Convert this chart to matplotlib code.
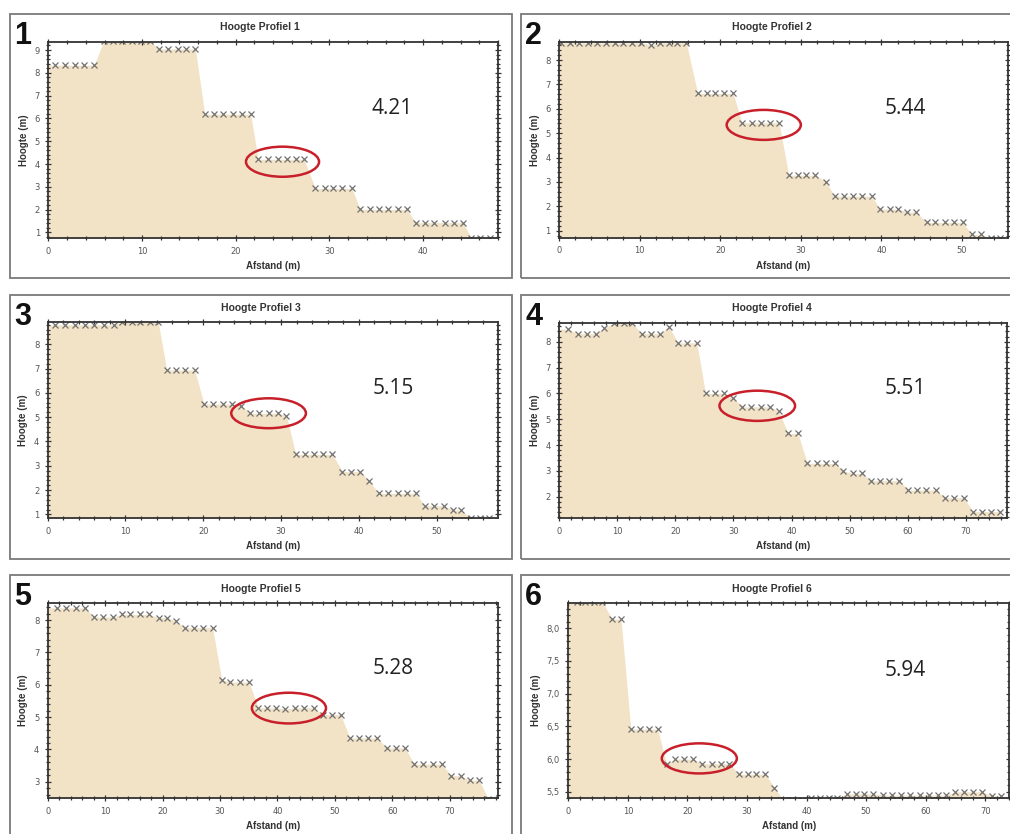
import matplotlib.pyplot as plt
from matplotlib.patches import Ellipse, Rectangle
from matplotlib.ticker import MultipleLocator, AutoMinorLocator, FuncFormatter
import numpy as np

# Hoogte profielen: afstand (m) en hoogte (m) van de meetpunten
x1 = [0.7, 1.75, 2.8, 3.85, 4.9, 5.9, 6.9, 7.9, 8.9, 9.9, 10.9, 11.8, 12.8, 13.8, 14.7, 15.7,
      16.7, 17.7, 18.7, 19.7, 20.7, 21.6, 22.4, 23.5, 24.5, 25.5, 26.4, 27.3, 28.5, 29.5, 30.4,
      31.4, 32.4, 33.3, 34.3, 35.3, 36.3, 37.3, 38.3, 39.2, 40.2, 41.2, 42.3, 43.3, 44.3, 45.1,
      46.1, 47.1]
y1 = [8.34, 8.34, 8.34, 8.34, 8.34, 9.38, 9.38, 9.38, 9.38, 9.38, 9.38, 9.05, 9.05, 9.05, 9.05, 9.05,
      6.19, 6.19, 6.19, 6.19, 6.19, 6.19, 4.21, 4.21, 4.21, 4.21, 4.21, 4.21, 2.93, 2.93, 2.93,
      2.93, 2.93, 2.01, 2.01, 2.01, 2.01, 2.01, 2.01, 1.43, 1.43, 1.43, 1.43, 1.43, 1.43, 0.77,
      0.77, 0.77]

x2 = [0.3, 1.4, 2.5, 3.55, 4.7, 5.8, 6.9, 8.0, 9.1, 10.2, 11.4, 12.5, 13.6, 14.7, 15.8, 17.2,
      18.3, 19.4, 20.5, 21.6, 22.7, 23.9, 25.0, 26.2, 27.3, 28.5, 29.6, 30.7, 31.8, 33.1, 34.2,
      35.4, 36.5, 37.6, 38.8, 39.8, 41.0, 42.1, 43.2, 44.3, 45.6, 46.7, 47.9, 49.0, 50.1, 51.2,
      52.4, 53.6, 54.7]
y2 = [8.71, 8.71, 8.71, 8.71, 8.71, 8.71, 8.71, 8.71, 8.71, 8.71, 8.62, 8.71, 8.71, 8.71, 8.71, 6.63,
      6.63, 6.63, 6.63, 6.63, 5.43, 5.43, 5.43, 5.43, 5.43, 3.28, 3.28, 3.28, 3.28, 3.01, 2.42,
      2.42, 2.42, 2.42, 2.42, 1.89, 1.89, 1.89, 1.77, 1.77, 1.34, 1.34, 1.34, 1.34, 1.34, 0.85,
      0.85, 0.69, 0.69]

x3 = [0.95, 2.2, 3.5, 4.8, 6.0, 7.3, 8.5, 9.6, 10.8, 11.9, 13.1, 14.2, 15.3, 16.5, 17.7, 18.9,
      20.1, 21.3, 22.6, 23.7, 24.9, 26.0, 27.2, 28.4, 29.6, 30.7, 31.9, 33.1, 34.2, 35.4, 36.6,
      37.9, 39.0, 40.2, 41.3, 42.6, 43.8, 45.0, 46.2, 47.3, 48.5, 49.7, 50.9, 52.1, 53.2, 54.4,
      55.6, 56.8]
y3 = [8.80, 8.80, 8.80, 8.80, 8.80, 8.80, 8.80, 8.93, 8.93, 8.93, 8.93, 8.93, 6.94, 6.94, 6.94, 6.94,
      5.54, 5.54, 5.54, 5.54, 5.47, 5.16, 5.16, 5.16, 5.16, 5.06, 3.47, 3.47, 3.47, 3.47, 3.47,
      2.76, 2.76, 2.76, 2.39, 1.87, 1.87, 1.87, 1.87, 1.87, 1.36, 1.36, 1.36, 1.18, 1.18, 0.84,
      0.84, 0.84]

x4 = [1.5, 3.2, 4.75, 6.3, 7.8, 9.5, 11.1, 12.6, 14.2, 15.8, 17.4, 18.9, 20.5, 22.1, 23.7, 25.2,
      26.8, 28.4, 30.0, 31.5, 33.1, 34.7, 36.3, 37.8, 39.4, 41.1, 42.7, 44.3, 45.9, 47.5, 48.9,
      50.5, 52.1, 53.7, 55.2, 56.8, 58.5, 60.1, 61.6, 63.2, 64.8, 66.4, 68.0, 69.6, 71.2, 72.7,
      74.3, 75.9]
y4 = [8.49, 8.32, 8.32, 8.32, 8.54, 8.72, 8.72, 8.72, 8.32, 8.32, 8.32, 8.58, 7.96, 7.96, 7.96, 6.00,
      6.00, 6.00, 5.83, 5.48, 5.48, 5.48, 5.48, 5.32, 4.45, 4.45, 3.29, 3.29, 3.29, 3.29, 3.00,
      2.90, 2.90, 2.62, 2.62, 2.62, 2.62, 2.26, 2.26, 2.26, 2.26, 1.96, 1.96, 1.96, 1.42, 1.42,
      1.42, 1.42]

x5 = [1.6, 3.2, 4.9, 6.5, 8.1, 9.7, 11.3, 12.9, 14.4, 16.1, 17.6, 19.3, 20.8, 22.3, 23.9, 25.5,
      27.1, 28.7, 30.3, 31.8, 33.5, 35.0, 36.7, 38.2, 39.8, 41.4, 43.0, 44.7, 46.3, 48.0, 49.5,
      51.0, 52.6, 54.2, 55.8, 57.4, 59.0, 60.6, 62.2, 63.8, 65.4, 67.0, 68.6, 70.3, 71.9, 73.5,
      75.1, 76.7]
y5 = [8.38, 8.38, 8.38, 8.38, 8.10, 8.10, 8.10, 8.18, 8.18, 8.18, 8.18, 8.08, 8.08, 7.97, 7.77, 7.77,
      7.77, 7.77, 6.16, 6.09, 6.09, 6.09, 5.29, 5.29, 5.29, 5.25, 5.29, 5.29, 5.29, 5.08, 5.08,
      5.08, 4.36, 4.36, 4.36, 4.36, 4.05, 4.05, 4.05, 3.55, 3.55, 3.55, 3.55, 3.19, 3.19, 3.05,
      3.05, 2.48]

x6 = [1.4, 2.8, 4.3, 5.7, 7.4, 8.85, 10.5, 12.0, 13.5, 15.0, 16.5, 17.9, 19.4, 21.0, 22.5, 24.1,
      25.6, 27.0, 28.7, 30.1, 31.6, 33.1, 34.6, 36.2, 37.6, 39.2, 40.8, 42.3, 43.7, 45.2, 46.8,
      48.3, 49.7, 51.2, 52.8, 54.3, 55.8, 57.4, 59.0, 60.5, 62.0, 63.5, 65.0, 66.5, 68.0, 69.5,
      71.1, 72.7]
y6 = [8.40, 8.40, 8.40, 8.40, 8.14, 8.14, 6.46, 6.46, 6.46, 6.46, 5.92, 6.00, 6.00, 6.00, 5.93, 5.93,
      5.93, 5.93, 5.77, 5.77, 5.77, 5.77, 5.56, 5.37, 5.37, 5.37, 5.40, 5.41, 5.41, 5.41, 5.47,
      5.47, 5.47, 5.47, 5.45, 5.45, 5.45, 5.45, 5.45, 5.45, 5.45, 5.45, 5.50, 5.50, 5.50, 5.50,
      5.44, 5.44]

# gemiddelde hoogte van de omcirkelde trede
values = ["4.21", "5.44", "5.15", "5.51", "5.28", "5.94"]
# omcirkelde trede: midden (x, y) en breedte/hoogte in data
ring_x = [25.0, 25.4, 28.4, 34.1, 42.0, 22.0]
ring_y = [4.10, 5.34, 5.16, 5.52, 5.28, 6.01]
ring_w = [7.8, 9.2, 9.6, 13.0, 12.9, 12.6]
ring_h = [1.32, 1.23, 1.23, 1.17, 0.95, 0.46]

xs = [x1, x2, x3, x4, x5, x6]
ys = [y1, y2, y3, y4, y5, y6]

# layout in pixels (figure 1010 x 834)
W, H = 1010, 834
axes_px = [(48.3, 42.3, 498, 238.3), (559, 42, 1008, 238), (47.7, 322.3, 498, 518.3),
           (559, 322.7, 1006.7, 518.3), (47.7, 602.7, 498, 798.3), (568.3, 602.7, 1009, 798.3)]
frames_px = [(10, 14, 511.7, 278.3), (521, 14, 1012, 278.3), (10, 295, 511.7, 559),
             (521, 295, 1012, 559), (10, 575, 511.7, 840), (521, 575, 1012, 840)]
xlims = [(0, 48), (0, 55.7), (0, 57.9), (0, 77.0), (0, 78.4), (0, 74.0)]
ylims = [(0.74, 9.34), (0.70, 8.74), (0.84, 8.90), (1.16, 8.74), (2.49, 8.54), (5.40, 8.39)]
ymajor = [1, 1, 1, 1, 1, 0.5]
text_px = [(392, 108), (905, 108), (393, 388), (905, 388), (393, 669), (905, 670)]
title_px = [(260, 27.3), (772, 27.3), (260.5, 307.7), (772, 307.7), (260.5, 589), (772, 589)]

fill_col = '#F2E3C7'
fig = plt.figure(figsize=(W / 100, H / 100), dpi=100)

comma = FuncFormatter(lambda v, p: ('%.1f' % v).replace('.', ','))

for i in range(6):
    l, t, r, b = axes_px[i]
    ax = fig.add_axes([l / W, 1 - b / H, (r - l) / W, (b - t) / H])
    x = np.array(xs[i])
    y = np.array(ys[i])
    y0 = ylims[i][0] - 1
    # profile fill reaches the left axis at the first height
    ax.fill_between(np.r_[0, x], np.r_[y[0], y], y0, color=fill_col, lw=0)
    ax.plot(x, y, ls='none', marker='x', ms=5, mew=0.9, color='#727272')
    ax.add_patch(Ellipse((ring_x[i], ring_y[i]), ring_w[i], ring_h[i], fill=False,
                         ec='#c8202a', lw=1.8, zorder=5))
    ax.set_xlim(*xlims[i])
    ax.set_ylim(*ylims[i])
    ax.xaxis.set_major_locator(MultipleLocator(10))
    ax.yaxis.set_major_locator(MultipleLocator(ymajor[i]))
    ax.xaxis.set_minor_locator(AutoMinorLocator(5))
    ax.yaxis.set_minor_locator(AutoMinorLocator(5))
    if i == 5:
        ax.yaxis.set_major_formatter(comma)
    ax.tick_params(which='both', direction='inout', top=True, right=True,
                   labelsize=6, labelcolor='#555555', color='#333333', width=0.9)
    ax.tick_params(which='major', length=5)
    ax.tick_params(which='minor', length=2.5)
    for s in ax.spines.values():
        s.set_color('#333333')
        s.set_linewidth(1.3)
    ax.set_xlabel('Afstand (m)', fontsize=7, fontweight='bold', color='#333333', labelpad=4,
                  family='Liberation Sans')
    ax.set_ylabel('Hoogte (m)', fontsize=7, fontweight='bold', color='#333333', labelpad=4,
                  family='Liberation Sans')

    tx, ty = text_px[i]
    fig.text(tx / W, 1 - ty / H, values[i], ha='center', va='center', fontsize=15,
             family='Open Sans', color='#222222')
    hx, hy = title_px[i]
    fig.text(hx / W, 1 - hy / H, 'Hoogte Profiel %d' % (i + 1), ha='center', va='center',
             fontsize=7.5, fontweight='bold', family='Liberation Sans', color='#333333')

    fl, ft, fr, fb = frames_px[i]
    fig.add_artist(Rectangle((fl / W, 1 - fb / H), (fr - fl) / W, (fb - ft) / H,
                             transform=fig.transFigure, fill=False, ec='#7a7a7a', lw=1.3))
    fig.text((fl + 4) / W, 1 - (ft + 7) / H, str(i + 1), ha='left', va='top', fontsize=22,
             fontweight='bold', family='Liberation Sans', color='#111111')

fig.savefig('out.png', dpi=100)
